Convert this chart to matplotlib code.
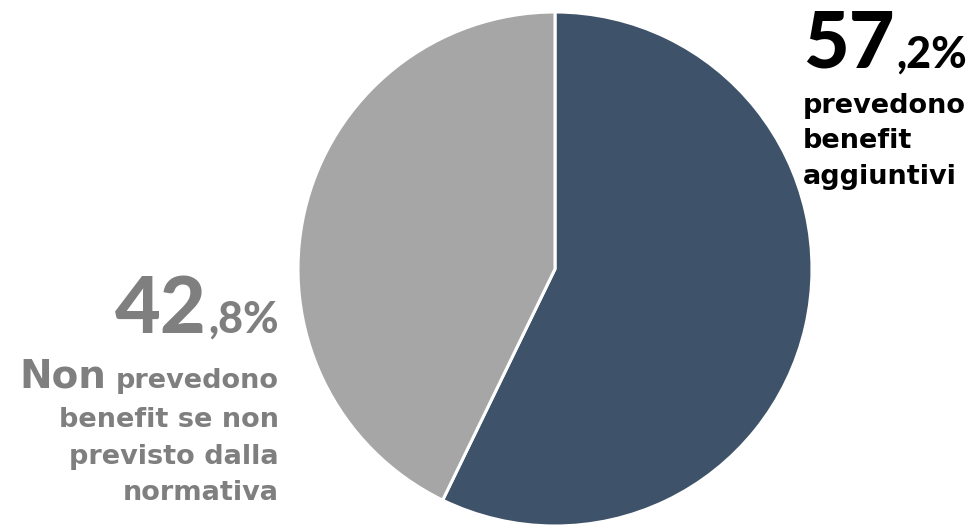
import matplotlib
matplotlib.use("Agg")
import matplotlib.pyplot as plt

# data
labels = ["prevedono benefit aggiuntivi", "Non prevedono benefit se non previsto dalla normativa"]
shares = [57.2, 42.8]
colors = ["#3E5269", "#A6A6A6"]

W, H = 975, 525
plt.rcParams["font.family"] = ["Lato", "DejaVu Sans"]
WORDS = ["DejaVu Sans"]

fig = plt.figure(figsize=(W / 100, H / 100), dpi=100)


def fx(px):
    return px / W


def fy(py):
    return (H - py) / H


# pie axes: centre (555, 269), radius 257 px
r = 257
ax = fig.add_axes([fx(555 - r), fy(269 + r), 2 * r / W, 2 * r / H])
ax.pie(shares, colors=colors, startangle=90, counterclock=False,
       wedgeprops=dict(edgecolor="white", linewidth=2.2))
ax.set_aspect("equal")
ax.set_xlim(-1, 1)
ax.set_ylim(-1, 1)
ax.axis("off")

renderer = fig.canvas.get_renderer()


def width_px(t):
    return t.get_window_extent(renderer).width


# right label (57,2%)
int_r, dec_r = f"{shares[0]:.1f}".split(".")
t57 = fig.text(fx(803), fy(68), int_r, fontsize=57, fontweight="black",
               color="black", va="baseline", ha="left")
fig.text(fx(803 + width_px(t57) + 2), fy(68), "," + dec_r + "%", fontsize=31,
         fontweight="black", color="black", va="baseline", ha="left")
for i, line in enumerate(["prevedono", "benefit", "aggiuntivi"]):
    fig.text(fx(803), fy(113 + i * 35.5), line, fontsize=19.5, fontweight="bold",
             family=WORDS, color="black", va="baseline", ha="left")

# left label (42,8%)
grey_txt = "#7F7F7F"
int_l, dec_l = f"{shares[1]:.1f}".split(".")
t8 = fig.text(fx(279), fy(333), "," + dec_l + "%", fontsize=31, fontweight="black",
              color=grey_txt, va="baseline", ha="right")
fig.text(fx(279 - width_px(t8) - 2), fy(333), int_l, fontsize=57,
         fontweight="black", color=grey_txt, va="baseline", ha="right")

tp = fig.text(fx(279), fy(388), "prevedono", fontsize=19.5, fontweight="bold",
              family=WORDS, color=grey_txt, va="baseline", ha="right")
fig.text(fx(279 - width_px(tp) - 10), fy(388), "Non", fontsize=28,
         fontweight="bold", family=WORDS, color=grey_txt, va="baseline", ha="right")
for i, line in enumerate(["benefit se non", "previsto dalla", "normativa"]):
    fig.text(fx(279), fy(427 + i * 36.5), line, fontsize=19.5, fontweight="bold",
             family=WORDS, color=grey_txt, va="baseline", ha="right")

fig.savefig("out.png", dpi=100)
